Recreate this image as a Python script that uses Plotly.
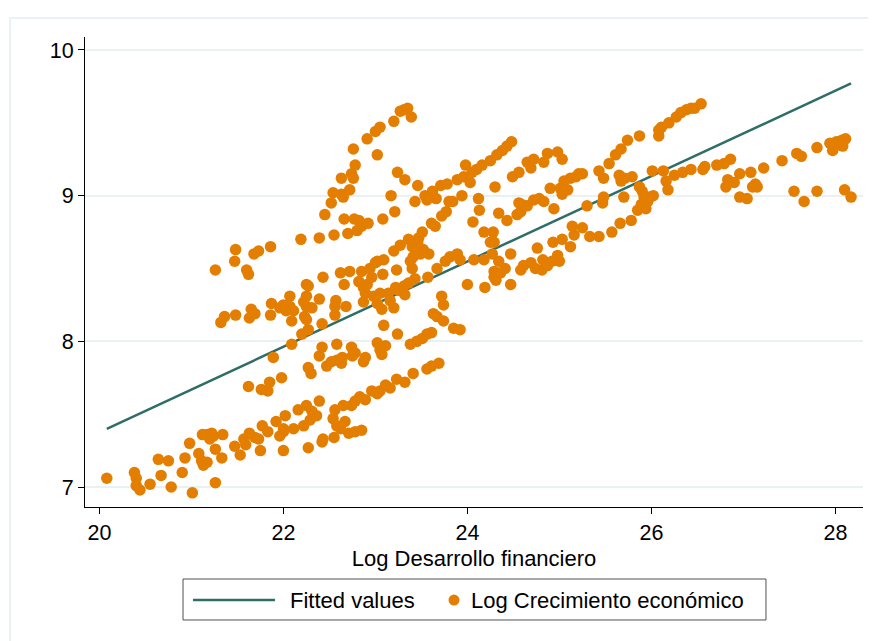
import plotly.graph_objects as go

# ---- data ----
fit_x = [20.08, 28.17]
fit_y = [7.40, 9.77]

band_low = [
    (20.08, 7.06), (20.38, 7.10), (20.40, 7.06), (20.40, 7.01), (20.44, 6.98), (20.55, 7.02), (20.67, 7.08), (20.64, 7.19),
    (20.75, 7.18), (20.78, 7.00), (20.90, 7.10), (20.93, 7.20), (21.01, 6.96), (20.98, 7.30), (21.08, 7.23), (21.11, 7.18),
    (21.13, 7.15), (21.17, 7.17), (21.12, 7.36), (21.17, 7.36), (21.22, 7.37), (21.24, 7.35), (21.20, 7.33), (21.34, 7.36),
    (21.26, 7.26), (21.33, 7.20), (21.26, 7.03), (21.47, 7.28), (21.53, 7.22), (21.57, 7.33), (21.59, 7.29), (21.63, 7.37),
    (21.69, 7.34), (21.73, 7.33), (21.75, 7.25), (21.77, 7.42), (21.83, 7.38), (21.92, 7.45), (21.96, 7.35), (22.00, 7.38),
    (22.02, 7.49), (22.00, 7.25), (22.00, 7.40), (22.11, 7.40), (22.16, 7.53), (22.22, 7.42), (22.25, 7.56), (22.29, 7.46),
    (22.31, 7.52), (22.36, 7.49), (22.39, 7.59), (22.27, 7.27), (22.42, 7.31), (22.43, 7.33), (22.55, 7.34), (22.54, 7.47),
    (22.56, 7.53), (22.58, 7.42), (22.62, 7.40), (22.67, 7.45), (22.71, 7.37), (22.78, 7.38), (22.85, 7.39), (22.65, 7.56),
    (22.74, 7.56), (22.78, 7.59), (22.83, 7.62), (22.89, 7.60), (22.96, 7.66), (23.02, 7.64), (23.05, 7.66), (23.11, 7.70),
    (23.16, 7.68), (23.23, 7.74), (23.32, 7.72), (23.41, 7.78), (23.56, 7.81), (23.61, 7.83), (23.69, 7.85),
]

band_second = [
    (21.62, 7.69), (21.76, 7.67), (21.83, 7.66), (21.85, 7.72), (21.98, 7.75), (21.89, 7.89), (22.09, 7.98), (22.20, 8.05),
    (22.27, 8.08), (22.30, 7.78), (22.27, 7.82), (22.42, 7.96), (22.39, 7.90), (22.47, 7.83), (22.52, 7.86), (22.58, 7.98),
    (22.63, 7.85), (22.64, 7.89), (22.74, 7.96), (22.75, 7.90), (22.87, 7.86), (22.89, 7.89), (23.02, 7.99), (23.05, 7.94),
    (23.11, 7.97), (23.07, 7.91), (23.24, 8.05), (23.38, 7.98), (23.45, 8.00), (23.51, 8.02), (23.56, 8.05), (23.61, 8.06),
    (22.58, 7.87), (23.09, 8.11), (22.78, 7.92),
]

band_middle = [
    (21.32, 8.13), (21.36, 8.17), (21.48, 8.18), (21.63, 8.16), (21.65, 8.22), (21.69, 8.19), (21.87, 8.26), (21.86, 8.18),
    (21.96, 8.23), (22.00, 8.25), (22.07, 8.31), (22.07, 8.24), (22.03, 8.21), (22.11, 8.21), (22.09, 8.14), (22.25, 8.39),
    (22.25, 8.31), (22.22, 8.27), (22.25, 8.24), (22.31, 8.23), (22.23, 8.17), (22.25, 8.15), (22.39, 8.29), (22.43, 8.44),
    (22.42, 8.12), (22.57, 8.28), (22.56, 8.24), (22.56, 8.18), (22.68, 8.24), (22.62, 8.47), (22.66, 8.39), (22.72, 8.48),
    (22.82, 8.41), (22.85, 8.48), (22.91, 8.39), (22.89, 8.33), (22.87, 8.27), (22.94, 8.50), (23.00, 8.54), (22.27, 8.38),
    (22.96, 8.44), (22.87, 8.37), (22.98, 8.31), (23.02, 8.26), (23.07, 8.22), (23.05, 8.33), (23.14, 8.33), (23.16, 8.28),
    (23.20, 8.23), (23.22, 8.37), (23.25, 8.35), (23.31, 8.38), (23.32, 8.32), (23.36, 8.40), (23.43, 8.43), (23.57, 8.44),
    (23.08, 8.46), (23.23, 8.49), (23.40, 8.50), (23.38, 8.55), (23.02, 8.55), (23.09, 8.56), (23.20, 8.62), (23.27, 8.66),
    (23.36, 8.70), (23.40, 8.65), (23.45, 8.64), (23.49, 8.60), (23.52, 8.63), (23.58, 8.60), (23.47, 8.71), (23.41, 8.58),
    (23.67, 8.50), (23.76, 8.55), (23.81, 8.58), (23.89, 8.60), (23.92, 8.56), (24.07, 8.56), (24.18, 8.56), (24.00, 8.39),
    (24.19, 8.37), (24.29, 8.44), (24.36, 8.47), (24.47, 8.39), (24.31, 8.42), (24.29, 8.48), (24.34, 8.55), (24.41, 8.50),
    (24.27, 8.60), (24.47, 8.60), (24.25, 8.68), (24.29, 8.68), (24.18, 8.75), (24.28, 8.75), (24.58, 8.49), (24.61, 8.52),
    (24.69, 8.54), (24.74, 8.50), (24.82, 8.56), (24.81, 8.49), (24.92, 8.55), (24.98, 8.59), (25.00, 8.55), (24.87, 8.52),
    (24.76, 8.64), (24.93, 8.68), (25.03, 8.70), (25.12, 8.65), (25.16, 8.73), (25.14, 8.79), (25.25, 8.78), (25.33, 8.72),
    (25.43, 8.72), (25.57, 8.75), (25.66, 8.81), (25.78, 8.83), (25.85, 8.90), (25.89, 8.94), (25.94, 8.91), (25.96, 8.96),
    (25.92, 8.99), (25.98, 8.99), (26.02, 9.00), (25.90, 9.03), (25.87, 9.06), (23.72, 8.31), (23.74, 8.25), (23.63, 8.19),
    (23.67, 8.17), (23.74, 8.14), (23.85, 8.09), (23.92, 8.08),
]

band_upper = [
    (21.26, 8.49), (21.48, 8.63), (21.47, 8.55), (21.60, 8.49), (21.62, 8.46), (21.68, 8.60), (21.73, 8.62), (21.86, 8.65),
    (22.19, 8.70), (22.39, 8.71), (22.55, 8.73), (22.70, 8.74), (22.80, 8.76), (22.85, 8.79), (22.92, 8.81), (22.45, 8.87),
    (22.52, 8.95), (22.54, 9.02), (22.63, 9.12), (22.63, 9.01), (22.65, 8.99), (22.72, 9.04), (22.74, 9.15), (22.76, 9.12),
    (22.78, 9.21), (22.76, 9.32), (22.91, 9.39), (23.00, 9.44), (23.05, 9.47), (23.02, 9.28), (23.20, 9.51), (23.27, 9.58),
    (23.31, 9.59), (23.35, 9.60), (23.39, 9.54), (23.24, 9.16), (23.32, 9.11), (22.66, 8.84), (22.77, 8.84), (22.82, 8.83),
    (23.08, 8.84), (23.21, 8.89), (23.17, 9.00), (23.46, 9.07), (23.43, 8.96), (23.54, 9.00), (23.56, 8.97), (23.62, 9.03),
    (23.66, 8.98), (23.71, 9.07), (23.78, 9.08), (23.89, 9.11), (23.96, 9.13), (24.03, 9.09), (23.98, 9.21), (24.05, 9.16),
    (24.10, 9.18), (24.16, 9.21), (24.25, 9.24), (24.32, 9.28), (24.38, 9.31), (24.43, 9.34), (24.48, 9.37), (24.49, 9.13),
    (24.30, 9.06), (24.12, 8.98), (24.13, 8.90), (24.06, 8.82), (23.80, 8.96), (23.84, 8.96), (23.94, 9.00), (23.77, 8.89),
    (23.72, 8.86), (23.61, 8.81), (23.65, 8.79), (23.51, 8.75), (23.46, 8.68), (24.34, 8.88), (24.43, 8.83), (24.56, 9.16),
    (24.56, 8.95), (24.54, 8.87), (24.59, 8.94), (24.65, 8.93), (24.72, 8.97), (24.78, 8.98), (24.83, 8.96), (24.94, 8.91),
    (25.01, 9.05), (25.09, 9.04), (25.12, 9.12), (25.18, 9.13), (25.21, 9.15), (25.03, 9.01), (24.90, 9.05), (25.05, 9.10),
    (24.58, 8.89), (24.65, 9.23), (24.72, 9.25), (24.83, 9.23), (24.87, 9.29), (24.98, 9.30), (25.03, 9.25), (24.69, 9.19),
]

band_top_right = [
    (25.43, 9.17), (25.54, 9.22), (25.61, 9.28), (25.67, 9.32), (25.74, 9.38), (25.87, 9.41), (26.08, 9.41), (26.08, 9.45),
    (26.11, 9.47), (26.19, 9.50), (26.27, 9.54), (26.32, 9.57), (26.38, 9.59), (26.43, 9.60), (26.47, 9.60), (26.54, 9.63),
]

band_right = [
    (25.25, 9.15), (25.48, 9.12), (25.65, 9.14), (25.71, 9.12), (25.79, 9.13), (25.67, 9.10), (25.48, 8.99), (25.47, 8.95),
    (25.70, 8.99), (25.30, 8.93), (26.01, 9.17), (26.13, 9.17), (26.16, 9.10), (26.18, 9.04), (26.25, 9.14), (26.34, 9.16),
    (26.43, 9.18), (26.56, 9.18), (26.58, 9.20), (26.71, 9.21), (26.79, 9.22), (26.86, 9.25), (26.83, 9.11), (26.81, 9.06),
    (26.90, 9.09), (26.96, 9.15), (26.96, 8.99), (27.04, 8.98), (27.08, 9.16), (27.13, 9.08), (27.10, 9.06), (27.15, 9.06),
    (27.22, 9.19), (27.42, 9.24), (27.58, 9.29), (27.63, 9.27), (27.80, 9.33), (27.55, 9.03), (27.66, 8.96), (27.80, 9.03),
    (27.94, 9.36), (27.97, 9.31), (28.01, 9.37), (28.07, 9.38), (28.11, 9.39), (28.08, 9.34), (27.99, 9.34), (28.10, 9.04),
    (28.17, 8.99),
]

x_ticks = [20, 22, 24, 26, 28]
y_ticks = [7, 8, 9, 10]
x_title = "Log Desarrollo financiero"
fit_name = "Fitted values"
scatter_name = "Log Crecimiento económico"

points = band_low + band_second + band_middle + band_upper + band_top_right + band_right
log_fin_dev = [p[0] for p in points]
log_growth = [p[1] for p in points]

FONT = "Liberation Sans, Arial, Helvetica, sans-serif"
TEAL = "#2E6E66"
ORANGE = "#E37E00"

fig = go.Figure()
fig.add_trace(go.Scatter(
    x=fit_x, y=fit_y, mode="lines", name=fit_name,
    line=dict(color=TEAL, width=2.5), showlegend=False,
))
fig.add_trace(go.Scatter(
    x=log_fin_dev, y=log_growth, mode="markers", name=scatter_name,
    marker=dict(color=ORANGE, size=11.5, line=dict(width=0)), showlegend=False,
))

# legend drawn in paper coordinates (box, line sample, dot sample, labels)
leg_y = -0.198
shapes = [
    dict(type="rect", xref="paper", yref="paper", x0=-0.0964, y0=-0.33, x1=1.04, y1=1.0404,
         line=dict(color="#E4ECEF", width=1.5), fillcolor="rgba(0,0,0,0)", layer="below"),
    dict(type="rect", xref="paper", yref="paper", x0=0.126, y0=-0.2404, x1=0.8753, y1=-0.1532,
         line=dict(color="#505050", width=1), fillcolor="white"),
    dict(type="line", xref="paper", yref="paper", x0=0.1388, x1=0.2442, y0=leg_y, y1=leg_y,
         line=dict(color=TEAL, width=2.5)),
    dict(type="circle", xref="paper", yref="paper", xsizemode="pixel", ysizemode="pixel",
         xanchor=0.4743, yanchor=leg_y, x0=-5.5, x1=5.5, y0=-5.5, y1=5.5,
         fillcolor=ORANGE, line=dict(width=0)),
]
annotations = [
    dict(text=fit_name, xref="paper", yref="paper", x=0.2615, y=leg_y, xanchor="left", yanchor="middle",
         showarrow=False, font=dict(family=FONT, size=22, color="black")),
    dict(text=scatter_name, xref="paper", yref="paper", x=0.4941, y=leg_y, xanchor="left", yanchor="middle",
         showarrow=False, font=dict(family=FONT, size=22, color="black")),
]

fig.update_layout(
    width=868, height=633,
    paper_bgcolor="white", plot_bgcolor="white",
    margin=dict(l=77, r=13, t=29, b=134),
    font=dict(family=FONT, size=22, color="black"),
    showlegend=False,
    xaxis=dict(
        range=[19.843, 28.30], tickvals=x_ticks, showgrid=False, zeroline=False,
        showline=True, linecolor="black", linewidth=1,
        ticks="outside", ticklen=6, tickcolor="black", tickwidth=1,
        title=dict(text=x_title, font=dict(size=22), standoff=6),
        tickfont=dict(size=21.5),
    ),
    yaxis=dict(
        range=[6.863, 10.089], tickvals=y_ticks, showgrid=True, gridcolor="#EAF1F3", gridwidth=1.5,
        zeroline=False, showline=True, linecolor="black", linewidth=1,
        ticks="outside", ticklen=6, tickcolor="black", tickwidth=1,
        tickfont=dict(size=21.5),
    ),
    shapes=shapes,
    annotations=annotations,
)

fig.write_html("out.html")
